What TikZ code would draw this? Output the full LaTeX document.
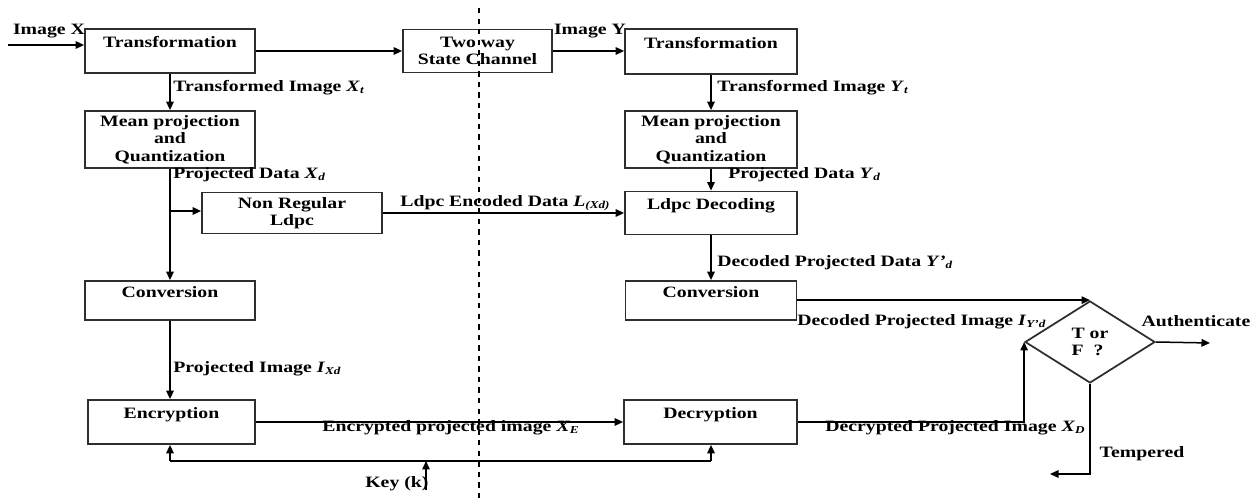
\documentclass[tikz,border=0pt]{standalone}
\usepackage{fontspec}
\setmainfont{Liberation Serif}[FakeStretch=1.25]
\usepackage{tikz}
\usetikzlibrary{arrows.meta,calc,positioning,shapes.geometric}
\definecolor{ink}{HTML}{2E2E2E}
\newcommand{\sym}[2]{\textit{#1}\textsubscript{\textit{#2}}}

\begin{document}
\begin{tikzpicture}[x=0.02cm, y=-0.02cm,
      every node/.style={font=\fontsize{9}{10}\selectfont\bfseries},
      box/.style={draw=ink, line width=1pt, align=center, inner sep=0pt},
      lbl/.style={anchor=west, inner sep=0pt},
      line/.style={draw=black, line width=0.85pt},
      >={Triangle[length=1.7mm, width=1.5mm]}]
    \useasboundingbox (0,0) rectangle (1255,502);
    % sender side
    \node[box, minimum width=3.4cm, minimum height=0.88cm] (tl) at (170,51) {Transformation\\\mbox{}};
    \node[box, minimum width=3.4cm, minimum height=1.14cm] (mpl) at (170,139.5) {Mean projection\\and\\Quantization};
    \node[box, minimum width=3.6cm, minimum height=0.82cm] (nrl) at (292,213) {Non Regular\\Ldpc};
    \node[box, minimum width=3.4cm, minimum height=0.78cm] (cvl) at (170,300.5) {Conversion\\\mbox{}};
    \node[box, minimum width=3.34cm, minimum height=0.88cm] (enc) at (171.5,422) {Encryption\\\mbox{}};
    % channel
    \node[box, minimum width=2.98cm, minimum height=0.86cm] (tw) at (477.5,51) {Two way\\State Channel};
    % receiver side
    \node[box, minimum width=3.44cm, minimum height=0.9cm] (tr) at (711,51.5) {Transformation\\\mbox{}};
    \node[box, minimum width=3.44cm, minimum height=1.14cm] (mpr) at (711,139.5) {Mean projection\\and\\Quantization};
    \node[box, minimum width=3.44cm, minimum height=0.86cm] (ldr) at (711,213) {Ldpc Decoding\\\mbox{}};
    \node[box, minimum width=3.42cm, minimum height=0.78cm] (cvr) at (711,300.5) {Conversion\\\mbox{}};
    \node[box, minimum width=3.46cm, minimum height=0.88cm] (dec) at (710.5,422) {Decryption\\\mbox{}};
    \node[box, diamond, minimum width=2.6cm, minimum height=1.64cm, align=left] (dia) at (1090,342) {T or\\F\ \ ?};
    % free ends
    \coordinate (in) at (8,45);
    \coordinate (br) at (170,211);
    \coordinate (kl) at (170,461);
    \coordinate (kr) at (711,461);
    \coordinate (key) at (426,490);
    \coordinate (auth) at (1210,343);
    \coordinate (tmp) at (1050,474);
    \coordinate (cut1) at (479,8);
    \coordinate (cut2) at (479,502);
    % connectors
    \draw[line, ->] (in) -- (tl.west |- in);
    \draw[line, ->] (tl.east) -- (tl.east -| tw.west);
    \draw[line, ->] (tw.east) -- (tw.east -| tr.west);
    \draw[line, ->] (tl) -- (mpl);
    \draw[line, ->] (mpl) -- (cvl);
    \draw[line, ->] (br) -- (br -| nrl.west);
    \draw[line, ->] (nrl) -- (ldr);
    \draw[line, ->] (tr) -- (mpr);
    \draw[line, ->] (mpr) -- (ldr);
    \draw[line, ->] (ldr) -- (cvr);
    \draw[line, ->] (cvl) -- (enc.north -| cvl.south);
    \draw[line, ->] (enc.east) -- (enc.east -| dec.west);
    \draw[line] (kl) -- (kr);
    \draw[line, ->] (kl) -- (kl |- enc.south);
    \draw[line, ->] (kr) -- (kr |- dec.south);
    \draw[line, ->] (key) -- (key |- kl);
    \draw[line, ->] (cvr.east |- dia.north) -- (dia.north);
    \draw[line, ->] (dec.east) -| (dia.west);
    \draw[line, ->] (dia.east) -- (auth);
    \draw[line, ->] (dia.south) |- (tmp);
    \draw[line, dashed] (cut1) -- (cut2);
    % labels
    \node[inner sep=0pt] (lx) at (49,31) {Image X};
    \node[inner sep=0pt] (ly) at (590,31) {Image Y};
    \node[lbl] (lxt) at (173,88) {Transformed Image \sym{X}{t}};
    \node[lbl] (lxd) at (173,175) {Projected Data \sym{X}{d}};
    \node[lbl] (lenc) at (400,203) {Ldpc Encoded Data \sym{L}{(Xd)}};
    \node[lbl] (lyt) at (717,88) {Transformed Image \sym{Y}{t}};
    \node[lbl] (lyd) at (728,175) {Projected Data \sym{Y}{d}};
    \node[lbl] (lydd) at (717,263) {Decoded Projected Data \sym{Y\kern0.5pt'}{d}};
    \node[lbl] (lixd) at (173,369) {Projected Image \sym{I}{Xd}};
    \node[lbl] (lxe) at (322,428) {Encrypted projected image \sym{X}{E}};
    \node[lbl] (lkey) at (365,484) {Key (k)};
    \node[lbl] (liyd) at (797,322) {Decoded Projected Image \sym{I}{Y'd}};
    \node[lbl] (lxdd) at (825,428) {Decrypted Projected Image \sym{X}{D}};
    \node[inner sep=0pt] (lauth) at (1196,321) {Authenticate};
    \node[inner sep=0pt] (ltmp) at (1142,454) {Tempered};
\end{tikzpicture}
\end{document}
